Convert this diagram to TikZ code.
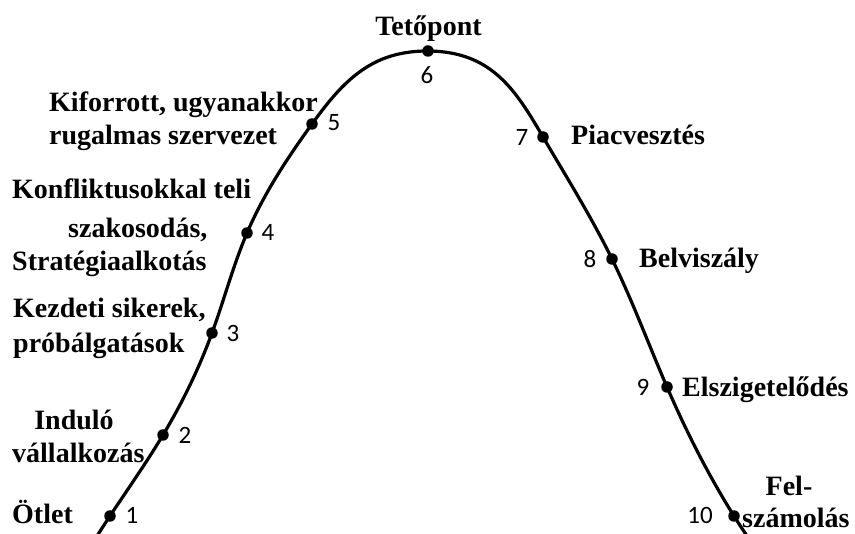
\documentclass[tikz,border=0pt]{standalone}
\usepackage{fontspec}
\usetikzlibrary{hobby}
\setmainfont{Liberation Serif}
\newfontfamily\numfont{Carlito}
\begin{document}
\begin{tikzpicture}[x=1pt,y=-1pt,
  lbl/.style={font=\fontsize{28}{33}\selectfont\bfseries, inner sep=0pt},
  num/.style={font=\fontsize{25}{30}\selectfont\numfont, inner sep=0pt},
  dot/.style={circle, fill=black, minimum size=11.5pt, inner sep=0pt},
  curve/.style={line width=3.2pt, line cap=round}]
\useasboundingbox (0,0) rectangle (855,534);
\fill[white] (0,0) rectangle (855,534);
% curve points
\coordinate (s) at (97,536);
\coordinate (e) at (747,536);
\coordinate (c56) at (378,61);
\coordinate (c67) at (480,63);
\node[dot] (p1) at (110,516) {};
\node[dot] (p2) at (163,435) {};
\node[dot] (p3) at (212,333) {};
\node[dot] (p4) at (247,233) {};
\node[dot] (p5) at (312,124) {};
\node[dot] (p6) at (428,51) {};
\node[dot] (p7) at (543,137) {};
\node[dot] (p8) at (612,259) {};
\node[dot] (p9) at (667,387) {};
\node[dot] (p10) at (734,516) {};
\draw[curve, use Hobby shortcut] (s) .. (p1.center) .. (p2.center) .. (p3.center) .. (p4.center) .. (p5.center) .. (c56) .. (p6.center) .. (c67) .. (p7.center) .. (p8.center) .. (p9.center) .. (p10.center) .. (e);
% numbers
\node[num] (n1) at (132,515) {1};
\node[num] (n2) at (185,435) {2};
\node[num] (n3) at (233,333) {3};
\node[num] (n4) at (268,232) {4};
\node[num] (n5) at (334,123) {5};
\node[num] (n6) at (427,75) {6};
\node[num] (n7) at (522,137) {7};
\node[num] (n8) at (590,259) {8};
\node[num] (n9) at (643,387) {9};
\node[num] (n10) at (700,515) {10};
% labels
\node[lbl, anchor=base] (t6) at (428.5,36) {Tetőpont};
\node[lbl, anchor=base west] (t5a) at (49,112) {Kiforrott, ugyanakkor};
\node[lbl, anchor=base west] (t5b) at (49,145) {rugalmas szervezet};
\node[lbl, anchor=base west] (t4a) at (12,199) {Konfliktusokkal teli};
\node[lbl, anchor=base west] (t4b) at (68,238) {szakosodás,};
\node[lbl, anchor=base west] (t4c) at (12,271) {Stratégiaalkotás};
\node[lbl, anchor=base west] (t3a) at (13,318) {Kezdeti sikerek,};
\node[lbl, anchor=base west] (t3b) at (13,353) {próbálgatások};
\node[lbl, anchor=base] (t2a) at (74,430) {Induló};
\node[lbl, anchor=base west] (t2b) at (12,463) {vállalkozás};
\node[lbl, anchor=base west] (t1) at (12,524) {Ötlet};
\node[lbl, anchor=base west] (t7) at (571,145) {Piacvesztés};
\node[lbl, anchor=base west] (t8) at (639,268) {Belviszály};
\node[lbl, anchor=base west] (t9) at (682,397) {Elszigetelődés};
\node[lbl, anchor=base] (t10a) at (789,496) {Fel-};
\node[lbl, anchor=base west] (t10b) at (742,528) {számolás};
\end{tikzpicture}
\end{document}
